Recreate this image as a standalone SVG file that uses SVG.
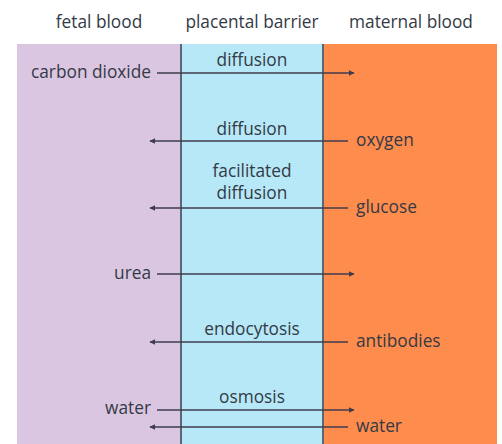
<svg xmlns="http://www.w3.org/2000/svg" width="502" height="444" viewBox="0 0 502 444">
<style>
text{font-family:"Open Sans","Noto Sans","Liberation Sans",sans-serif;font-size:17.3px;fill:#333a45}
.c{text-anchor:middle}.r{text-anchor:end}
.ln{stroke:#3f3d4c;stroke-width:1.5;fill:none}
.dv{stroke:#5b6676;stroke-width:2}
</style>
<defs>
<marker id="ah" viewBox="0 0 10 10" refX="9" refY="5" markerWidth="6" markerHeight="6" markerUnits="userSpaceOnUse" orient="auto-start-reverse"><path d="M0,0 L10,5 L0,10 Z" fill="#3f3d4c"/></marker>
</defs>
<rect width="502" height="444" fill="#fff"/>
<g id="regions">
<rect x="17" y="44" width="164" height="400" fill="#dbc6e2"/>
<rect x="181" y="44" width="142" height="400" fill="#b7e8f8"/>
<rect x="323" y="44" width="174" height="400" fill="#fe8c4d"/>
<line class="dv" x1="181" y1="44" x2="181" y2="444"/>
<line class="dv" x1="323" y1="44" x2="323" y2="444"/>
</g>
<g id="headers">
<text class="c" x="99" y="28">fetal blood</text>
<text class="c" x="252" y="28">placental barrier</text>
<text class="c" x="411" y="28">maternal blood</text>
</g>
<g id="connectors">
<line class="ln" x1="157" y1="73" x2="354" y2="73" marker-end="url(#ah)"/>
<line class="ln" x1="348" y1="141" x2="150" y2="141" marker-end="url(#ah)"/>
<line class="ln" x1="348" y1="208" x2="150" y2="208" marker-end="url(#ah)"/>
<line class="ln" x1="157" y1="274" x2="354" y2="274" marker-end="url(#ah)"/>
<line class="ln" x1="348" y1="342" x2="150" y2="342" marker-end="url(#ah)"/>
<line class="ln" x1="157" y1="410" x2="354" y2="410" marker-end="url(#ah)"/>
<line class="ln" x1="348" y1="427" x2="150" y2="427" marker-end="url(#ah)"/>
</g>
<g id="co2"><text class="r" x="151" y="78">carbon dioxide</text><text class="c" x="252" y="66">diffusion</text></g>
<g id="oxygen"><text x="356" y="146">oxygen</text><text class="c" x="252" y="135">diffusion</text></g>
<g id="glucose"><text x="356" y="213">glucose</text><text class="c" x="252" y="177">facilitated</text><text class="c" x="252" y="199">diffusion</text></g>
<g id="urea"><text class="r" x="151" y="279">urea</text></g>
<g id="antibodies"><text x="356" y="347">antibodies</text><text class="c" x="252" y="335">endocytosis</text></g>
<g id="water"><text class="r" x="151" y="414">water</text><text class="c" x="252" y="403">osmosis</text><text x="356" y="432">water</text></g>
</svg>
